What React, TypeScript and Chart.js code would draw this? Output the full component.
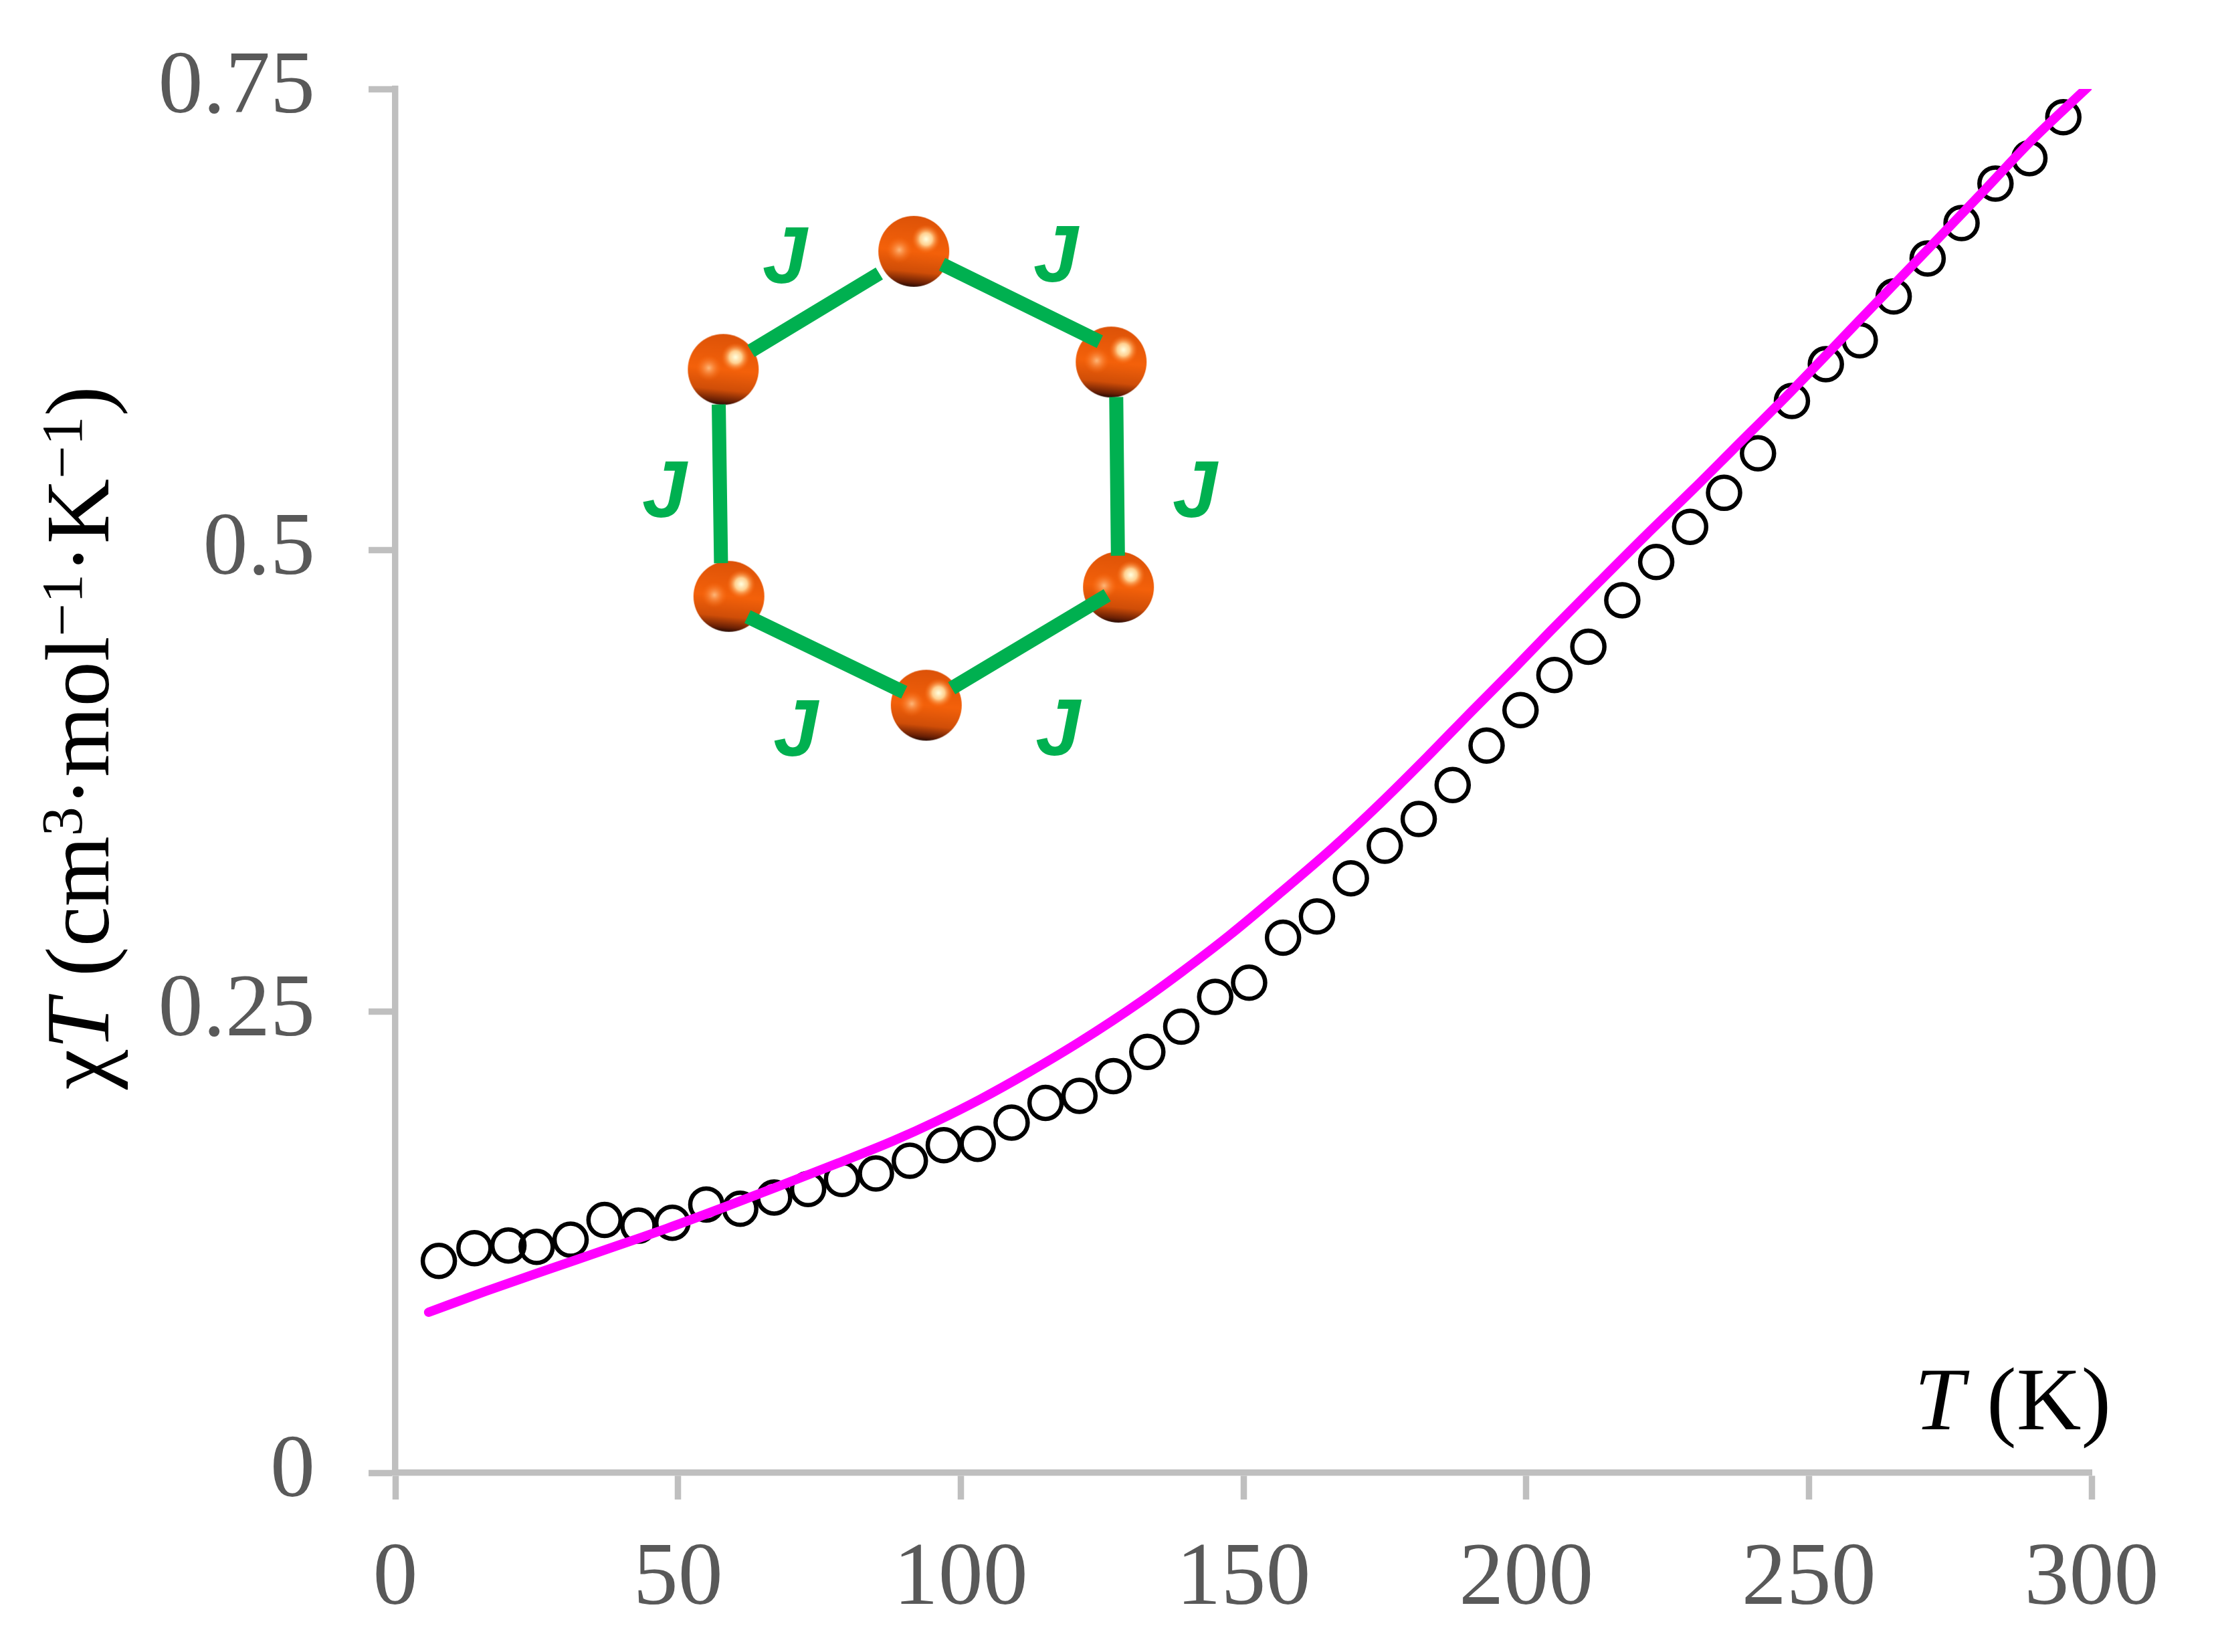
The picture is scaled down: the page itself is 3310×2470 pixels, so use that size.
import React, { useEffect, useRef } from "react";
import { Chart, registerables } from "chart.js";

Chart.register(...registerables);

const W = 3310;
const H = 2470;
const SERIF = '"Liberation Serif"';

const xTicks = [0, 50, 100, 150, 200, 250, 300];
const yTicks = [0, 0.25, 0.5, 0.75];

const measuredT = [7.7, 14, 20, 25, 31, 37, 43, 49, 55, 61, 67, 73, 79, 85, 91, 97, 103, 109, 115, 121, 127, 133, 139, 145, 151, 157, 163, 169, 175, 181, 187, 193, 199, 205, 211, 217, 223, 229, 235, 241, 247, 253, 259, 265, 271, 277, 283, 289, 295];
const measuredChiT = [0.1148, 0.1217, 0.1232, 0.1224, 0.1263, 0.137, 0.1339, 0.1355, 0.1454, 0.1431, 0.1492, 0.1538, 0.1592, 0.1622, 0.1691, 0.1775, 0.1783, 0.1898, 0.2005, 0.2043, 0.215, 0.2281, 0.2418, 0.2579, 0.2656, 0.29, 0.3015, 0.3222, 0.3398, 0.3543, 0.3727, 0.3941, 0.4133, 0.4324, 0.4477, 0.4729, 0.4936, 0.5127, 0.5311, 0.5525, 0.5809, 0.6008, 0.6138, 0.6375, 0.6581, 0.6773, 0.6987, 0.7125, 0.7347];

const fitT = [5.9, 16.1, 26.4, 37.3, 48.1, 57.8, 67.4, 78.3, 88, 95.7, 103.5, 112, 121, 131.9, 139.1, 147.6, 156.6, 165.7, 174.1, 182.5, 190.3, 197.6, 204.4, 212.8, 221.3, 229.7, 236.4, 247, 258.6, 270.7, 280.7, 289.2, 299.5];
const fitChiT = [0.087, 0.0985, 0.1095, 0.121, 0.1325, 0.1435, 0.1548, 0.1678, 0.1798, 0.1905, 0.2025, 0.217, 0.2335, 0.2555, 0.2715, 0.2915, 0.3145, 0.3385, 0.3625, 0.388, 0.4125, 0.435, 0.4565, 0.4825, 0.5085, 0.5335, 0.554, 0.5865, 0.6235, 0.662, 0.694, 0.7215, 0.7515];

const nodeT = [91.7, 126.6, 127.9, 93.9, 59, 58];
const nodeChiT = [0.662, 0.602, 0.48, 0.416, 0.475, 0.598];

const bondT = [62.9, 85.6, NaN, 96.7, 124.6, NaN, 127.5, 127.8, NaN, 125.9, 98.4, NaN, 90, 62.3, NaN, 57.6, 57.2];
const bondChiT = [0.608, 0.65, NaN, 0.655, 0.613, NaN, 0.583, 0.497, NaN, 0.4756, 0.4252, NaN, 0.423, 0.464, NaN, 0.493, 0.579];

const couplingLabels = ["J", "J", "J", "J", "J", "J"];
const couplingT = [68.9, 116.8, 47.6, 141.4, 70.8, 117.2];
const couplingChiT = [0.657, 0.6575, 0.53, 0.53, 0.4005, 0.401];

const zip = (xs: number[], ys: number[]) => xs.map((x, i) => ({ x, y: ys[i] }));

function makeSphere() {
  const s = 108;
  const c = document.createElement("canvas");
  c.width = s;
  c.height = s;
  const g = c.getContext("2d")!;
  g.beginPath();
  g.arc(s / 2, s / 2, s / 2 - 1, 0, Math.PI * 2);
  g.clip();
  const base = g.createLinearGradient(s * 0.56, 0, s * 0.46, s);
  base.addColorStop(0, "#DC5208");
  base.addColorStop(0.5, "#F4610A");
  base.addColorStop(0.78, "#D04E08");
  base.addColorStop(0.93, "#6A2005");
  base.addColorStop(1, "#1E0703");
  g.fillStyle = base;
  g.fillRect(0, 0, s, s);
  const hi = g.createRadialGradient(s * 0.67, s * 0.33, 1, s * 0.67, s * 0.33, s * 0.2);
  hi.addColorStop(0, "#FFFBD8");
  hi.addColorStop(0.4, "#FFD090");
  hi.addColorStop(1, "rgba(255,110,20,0)");
  g.fillStyle = hi;
  g.fillRect(0, 0, s, s);
  const lo = g.createRadialGradient(s * 0.3, s * 0.48, 1, s * 0.3, s * 0.48, s * 0.18);
  lo.addColorStop(0, "rgba(255,190,130,0.85)");
  lo.addColorStop(1, "rgba(255,110,20,0)");
  g.fillStyle = lo;
  g.fillRect(0, 0, s, s);
  return c;
}

type Run = { text: string; italic?: boolean; sup?: boolean };
const xTitleRuns: Run[] = [{ text: "T", italic: true }, { text: " (K)" }];
const yTitleRuns: Run[] = [
  { text: "χ" },
  { text: "T", italic: true },
  { text: " (cm" },
  { text: "3", sup: true },
  { text: "·mol" },
  { text: "−1", sup: true },
  { text: "·K" },
  { text: "−1", sup: true },
  { text: ")" },
];

function drawRuns(ctx: CanvasRenderingContext2D, runs: Run[], size: number) {
  let x = 0;
  ctx.textAlign = "left";
  ctx.textBaseline = "alphabetic";
  ctx.fillStyle = "#000000";
  for (const r of runs) {
    const fs = r.sup ? size * 0.65 : size;
    ctx.font = `${r.italic ? "italic " : ""}${fs}px ${SERIF}`;
    ctx.fillText(r.text, x, r.sup ? -size * 0.3 : 0);
    x += ctx.measureText(r.text).width;
  }
}

const annotations = {
  id: "annotations",
  afterDatasetsDraw(chart: any) {
    const { ctx, scales } = chart;
    ctx.save();
    ctx.font = `italic bold 120px "Liberation Sans"`;
    ctx.textAlign = "center";
    ctx.textBaseline = "middle";
    couplingLabels.forEach((label, i) => {
      ctx.fillStyle = "#00B050";
      ctx.fillText(label, scales.x.getPixelForValue(couplingT[i]), scales.y.getPixelForValue(couplingChiT[i]));
    });
    ctx.restore();

    ctx.save();
    ctx.translate(2862, 2137);
    drawRuns(ctx, xTitleRuns, 134);
    ctx.restore();

    ctx.save();
    ctx.translate(162, 1629);
    ctx.rotate(-Math.PI / 2);
    drawRuns(ctx, yTitleRuns, 135);
    ctx.restore();
  },
};

export default function App() {
  const ref = useRef<HTMLCanvasElement>(null);
  useEffect(() => {
    const axisColor = "#BFBFBF";
    const chart = new Chart(ref.current!, {
      type: "scatter",
      data: {
        datasets: [
          {
            label: "fit",
            data: zip(fitT, fitChiT),
            showLine: true,
            borderColor: "#FF00FF",
            backgroundColor: "#FF00FF",
            borderWidth: 14,
            borderCapStyle: "round",
            pointRadius: 0,
            cubicInterpolationMode: "monotone",
            order: 1,
          },
          {
            label: "measured",
            data: zip(measuredT, measuredChiT),
            showLine: false,
            pointStyle: "circle",
            pointRadius: 24,
            pointBorderWidth: 6.5,
            pointBorderColor: "#000000",
            pointBackgroundColor: "rgba(0,0,0,0)",
            clip: false,
            order: 2,
          },
          {
            label: "bonds",
            data: zip(bondT, bondChiT),
            showLine: true,
            spanGaps: false,
            borderColor: "#00B050",
            borderWidth: 21,
            borderCapStyle: "butt",
            pointRadius: 0,
            order: 3,
          },
          {
            label: "atoms",
            data: zip(nodeT, nodeChiT),
            showLine: false,
            pointStyle: makeSphere(),
            pointRadius: 54,
            order: 4,
          },
        ],
      } as any,
      options: {
        responsive: false,
        animation: false,
        events: [],
        layout: { padding: { left: 0, top: 133, right: 183, bottom: 0 } },
        plugins: { legend: { display: false }, tooltip: { enabled: false }, title: { display: false } },
        scales: {
          x: {
            type: "linear",
            min: 0,
            max: 300,
            afterBuildTicks: (s: any) => {
              s.ticks = xTicks.map((value) => ({ value }));
            },
            afterFit: (s: any) => {
              s.height = H - 2202;
              s.paddingLeft = 0;
              s.paddingRight = 0;
            },
            grid: { drawOnChartArea: false, drawTicks: true, tickLength: 40, tickWidth: 9.5, tickColor: axisColor },
            border: { color: axisColor, width: 9.5 },
            ticks: { color: "#595959", font: { family: SERIF, size: 134 }, padding: 40, maxRotation: 0, autoSkip: false, callback: (v: any) => String(v) },
          },
          y: {
            type: "linear",
            min: 0,
            max: 0.75,
            afterBuildTicks: (s: any) => {
              s.ticks = yTicks.map((value) => ({ value }));
            },
            afterFit: (s: any) => {
              s.width = 591;
              s.paddingTop = 0;
              s.paddingBottom = 0;
            },
            grid: { drawOnChartArea: false, drawTicks: true, tickLength: 40, tickWidth: 9.5, tickColor: axisColor },
            border: { color: axisColor, width: 9.5 },
            ticks: { color: "#595959", font: { family: SERIF, size: 134 }, padding: 80, autoSkip: false, callback: (v: any) => String(v) },
          },
        },
      } as any,
      plugins: [annotations],
    });
    return () => chart.destroy();
  }, []);
  return (
    <div style={{ position: "absolute", left: 0, top: 0, width: W, height: H, background: "#fff" }}>
      <canvas ref={ref} width={W} height={H} style={{ display: "block", width: W, height: H }} />
    </div>
  );
}
